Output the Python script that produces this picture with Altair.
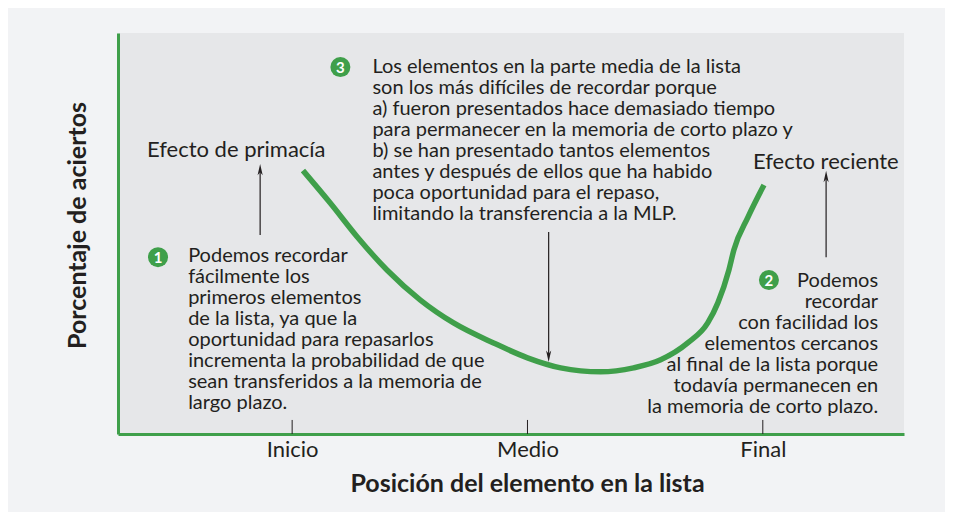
import altair as alt
import pandas as pd

# ---- data ----
curve_x = [1.046, 1.162, 1.276, 1.403, 1.545, 1.686, 1.856, 2.000, 2.141, 2.311,
           2.451, 2.566, 2.681, 2.766, 2.809, 2.856, 2.877, 2.937, 3.005]
curve_y = [65.7, 57.6, 49.2, 40.9, 33.4, 27.7, 22.7, 19.0, 16.5, 15.5,
           16.5, 18.5, 22.7, 27.7, 32.7, 40.9, 45.9, 54.1, 62.1]

tick_pos = [1, 2, 3]
tick_labels = ["Inicio", "Medio", "Final"]

note3 = ["Los elementos en la parte media de la lista",
         "son los más difíciles de recordar porque",
         "a) fueron presentados hace demasiado tiempo",
         "para permanecer en la memoria de corto plazo y",
         "b) se han presentado tantos elementos",
         "antes y después de ellos que ha habido",
         "poca oportunidad para el repaso,",
         "limitando la transferencia a la MLP."]
note1 = ["Podemos recordar",
         "fácilmente los",
         "primeros elementos",
         "de la lista, ya que la",
         "oportunidad para repasarlos",
         "incrementa la probabilidad de que",
         "sean transferidos a la memoria de",
         "largo plazo."]
note2 = ["Podemos",
         "recordar",
         "con facilidad los",
         "elementos cercanos",
         "al final de la lista porque",
         "todavía permanecen en",
         "la memoria de corto plazo."]

# arrows: x, start y, tip y
arrow_x = [0.864, 2.090, 3.269]
arrow_y1 = [49.6, 50.4, 44.1]
arrow_y2 = [65.8, 19.5, 64.1]
arrow_angle = [0, 180, 0]

badge_x = [0.43, 3.026, 1.205]
badge_y = [44.1, 38.4, 91.5]
badge_n = ["1", "2", "3"]

GREEN = "#3f9f4a"
INK = "#231f20"
FONT = "Lato"

xs = alt.Scale(domain=[0.26, 3.6], nice=False, zero=False)
ys = alt.Scale(domain=[0, 100], nice=False)

curve_df = pd.DataFrame({"x": curve_x, "y": curve_y})
ticks_df = pd.DataFrame({"x": tick_pos, "y0": [0] * 3, "y1": [3.5] * 3})
arrows_df = pd.DataFrame({"x": arrow_x, "y1": arrow_y1, "y2": arrow_y2, "a": arrow_angle})
badge_df = pd.DataFrame({"x": badge_x, "y": badge_y, "n": badge_n})

label_expr = " : ".join(
    f"datum.value == {p} ? '{t}'" for p, t in zip(tick_pos[:-1], tick_labels[:-1])
) + f" : '{tick_labels[-1]}'"

xaxis = alt.Axis(values=tick_pos, labelExpr=label_expr,
                 ticks=False, grid=False, domainColor=GREEN, domainWidth=3,
                 labelFont=FONT, labelFontSize=22, labelColor=INK, labelPadding=5,
                 title="Posición del elemento en la lista", titleFont=FONT,
                 titleFontSize=25, titleFontWeight="bold", titleColor=INK, titlePadding=11,
                 titleX=409, titleAlign="center")
yaxis = alt.Axis(labels=False, ticks=False, grid=False, domainColor=GREEN, domainWidth=3,
                 title="Porcentaje de aciertos", titleFont=FONT, titleFontSize=25,
                 titleFontWeight="bold", titleColor=INK, titlePadding=28,
                 titleY=192, titleAlign="center")

base_x = alt.X("x:Q", scale=xs, axis=xaxis)
base_y = alt.Y("y:Q", scale=ys, axis=yaxis)

curve = alt.Chart(curve_df).mark_line(color=GREEN, strokeWidth=5.5,
                                      interpolate="monotone", strokeCap="butt").encode(
    x=base_x, y=base_y)

ticks = alt.Chart(ticks_df).mark_rule(color=INK, strokeWidth=1).encode(
    x=alt.X("x:Q", scale=xs), y=alt.Y("y0:Q", scale=ys), y2="y1:Q")

arrow_lines = alt.Chart(arrows_df).mark_rule(color=INK, strokeWidth=1.2).encode(
    x=alt.X("x:Q", scale=xs), y=alt.Y("y1:Q", scale=ys), y2="y2:Q")

arrow_heads = alt.Chart(arrows_df).mark_point(
    shape="M0,-1 L0.42,0.85 L0,0.35 L-0.42,0.85 Z", filled=True, color=INK,
    size=150, opacity=1).encode(
    x=alt.X("x:Q", scale=xs), y=alt.Y("y2:Q", scale=ys), angle=alt.Angle("a:Q", scale=None))

badges = alt.Chart(badge_df).mark_point(shape="circle", filled=True, color=GREEN,
                                        size=400, opacity=1).encode(
    x=alt.X("x:Q", scale=xs), y=alt.Y("y:Q", scale=ys))
badge_txt = alt.Chart(badge_df).mark_text(font=FONT, fontSize=15, fontWeight="bold",
                                          color="white", baseline="middle", dy=1).encode(
    x=alt.X("x:Q", scale=xs), y=alt.Y("y:Q", scale=ys), text="n:N")


def block(lines, x, y, align):
    return alt.Chart(pd.DataFrame({"x": [x], "y": [y]})).mark_text(
        font=FONT, fontSize=20, color=INK, align=align, baseline="top",
        lineHeight=21).encode(
        x=alt.X("x:Q", scale=xs), y=alt.Y("y:Q", scale=ys), text=alt.value(lines))


t3 = block(note3, 1.341, 94.0, "left")
t1 = block(note1, 0.558, 46.9, "left")
t2 = block(note2, 3.490, 40.7, "right")

labels_df = pd.DataFrame({"x": [0.383, 2.958], "y": [70.8, 67.8],
                          "t": ["Efecto de primacía", "Efecto reciente"]})
labels = alt.Chart(labels_df).mark_text(font=FONT, fontSize=22, color=INK, align="left",
                                        baseline="middle").encode(
    x=alt.X("x:Q", scale=xs), y=alt.Y("y:Q", scale=ys), text="t:N")

chart = alt.layer(curve, ticks, arrow_lines, arrow_heads, badges, badge_txt,
                  t3, t1, t2, labels).properties(
    width=786, height=401,
    autosize=alt.AutoSizeParams(type="none"),
    padding={"left": 110, "top": 25, "right": 41, "bottom": 78},
    background="#f2f3f5",
).configure_view(fill="#e6e7e9", stroke=None)

chart.save("out.html", embed_options={"renderer": "svg", "actions": False})
